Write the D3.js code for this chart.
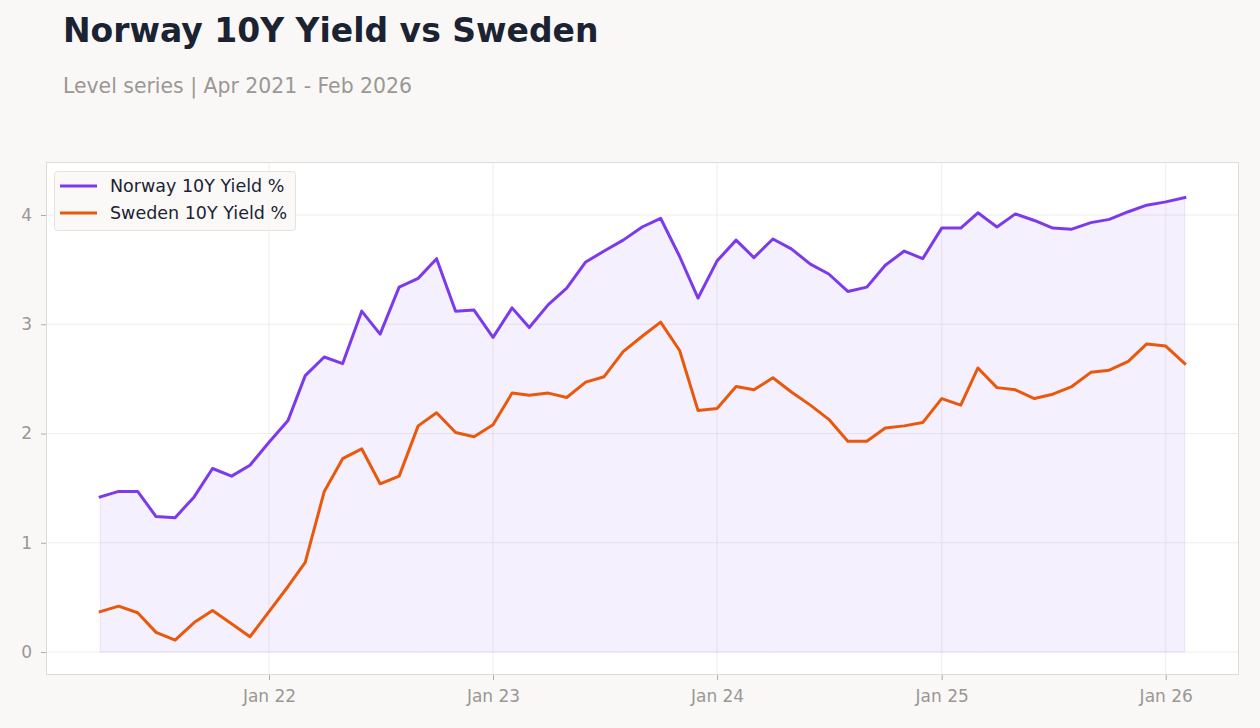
<!DOCTYPE html>
<html>
<head>
<meta charset="utf-8">
<script src="https://cdn.jsdelivr.net/npm/d3@7"></script>
<style>
  html, body { margin: 0; padding: 0; background: #f9f8f6; }
  svg { display: block; font-family: "DejaVu Sans", sans-serif; }
</style>
</head>
<body>
<svg id="chart" width="1260" height="728"></svg>
<script>
// monthly observations, Apr 2021 .. Feb 2026
var firstMonth = new Date(2021, 3, 1);
var lastMonth = new Date(2026, 1, 1);

var norway = [
    1.42, 1.47, 1.47, 1.24, 1.23, 1.42, 1.68, 1.61, 1.71, 1.92,
    2.12, 2.53, 2.70, 2.64, 3.12, 2.91, 3.34, 3.42, 3.60, 3.12,
    3.13, 2.88, 3.15, 2.97, 3.18, 3.33, 3.57, 3.67, 3.77, 3.89,
    3.97, 3.62, 3.24, 3.58, 3.77, 3.61, 3.78, 3.69, 3.55, 3.46,
    3.30, 3.34, 3.54, 3.67, 3.60, 3.88, 3.88, 4.02, 3.89, 4.01,
    3.95, 3.88, 3.87, 3.93, 3.96, 4.03, 4.09, 4.12, 4.16
];

var sweden = [
    0.37, 0.42, 0.36, 0.18, 0.11, 0.27, 0.38, 0.26, 0.14, 0.37,
    0.60, 0.82, 1.47, 1.77, 1.86, 1.54, 1.61, 2.07, 2.19, 2.01,
    1.97, 2.08, 2.37, 2.35, 2.37, 2.33, 2.47, 2.52, 2.75, 2.89,
    3.02, 2.76, 2.21, 2.23, 2.43, 2.40, 2.51, 2.38, 2.26, 2.13,
    1.93, 1.93, 2.05, 2.07, 2.10, 2.32, 2.26, 2.60, 2.42, 2.40,
    2.32, 2.36, 2.43, 2.56, 2.58, 2.66, 2.82, 2.80, 2.64
];

var seriesNames = ["Norway 10Y Yield %", "Sweden 10Y Yield %"];
var seriesColors = ["#7c3aed", "#ea580c"];
var yTicks = [0, 1, 2, 3, 4];
var xTickLabels = ["Jan 22", "Jan 23", "Jan 24", "Jan 25", "Jan 26"];
var xTickDates = [new Date(2022, 0, 1), new Date(2023, 0, 1), new Date(2024, 0, 1), new Date(2025, 0, 1), new Date(2026, 0, 1)];

var months = d3.timeMonth.range(firstMonth, d3.timeMonth.offset(lastMonth, 1));

var svg = d3.select("#chart");

var plot = { left: 46, top: 162, right: 1239, bottom: 675 };

// 5% padding either side, like the source chart
var span = lastMonth - firstMonth;
var x = d3.scaleTime()
    .domain([new Date(+firstMonth - span * 0.05), new Date(+lastMonth + span * 0.05)])
    .range([plot.left, plot.right]);

var y = d3.scaleLinear()
    .domain([-0.21, 4.485])
    .range([plot.bottom, plot.top]);

// titles
svg.append("text")
    .attr("x", 63).attr("y", 42)
    .attr("font-size", 33).attr("font-weight", "bold")
    .attr("fill", "#1b2333")
    .text("Norway 10Y Yield vs Sweden");

svg.append("text")
    .attr("x", 63).attr("y", 93)
    .attr("font-size", 20.4)
    .attr("fill", "#9a9794")
    .text("Level series | Apr 2021 - Feb 2026");

// plot background
svg.append("rect")
    .attr("x", plot.left).attr("y", plot.top)
    .attr("width", plot.right - plot.left).attr("height", plot.bottom - plot.top)
    .attr("fill", "#ffffff");

// grid
var grid = svg.append("g").attr("class", "grid");
grid.selectAll("line.h").data(yTicks).enter().append("line")
    .attr("class", "h")
    .attr("x1", plot.left).attr("x2", plot.right)
    .attr("y1", function(d) { return y(d); }).attr("y2", function(d) { return y(d); })
    .attr("stroke", "#ebe9e6").attr("stroke-width", 0.8);
grid.selectAll("line.v").data(xTickDates).enter().append("line")
    .attr("class", "v")
    .attr("y1", plot.top).attr("y2", plot.bottom)
    .attr("x1", function(d) { return x(d); }).attr("x2", function(d) { return x(d); })
    .attr("stroke", "#ebe9e6").attr("stroke-width", 0.8);

// shaded area under Norway
var area = d3.area()
    .x(function(d, i) { return x(months[i]); })
    .y0(y(0))
    .y1(function(d) { return y(d); });

svg.append("path")
    .datum(norway)
    .attr("d", area)
    .attr("fill", "rgba(124,58,237,0.08)")
    .attr("stroke", "rgba(124,58,237,0.10)")
    .attr("stroke-width", 1);

// lines
var line = d3.line()
    .x(function(d, i) { return x(months[i]); })
    .y(function(d) { return y(d); });

[norway, sweden].forEach(function(values, k) {
    svg.append("path")
        .datum(values)
        .attr("d", line)
        .attr("fill", "none")
        .attr("stroke", seriesColors[k])
        .attr("stroke-width", 3)
        .attr("stroke-linejoin", "round")
        .attr("stroke-linecap", "square");
});

// frame
svg.append("rect")
    .attr("x", plot.left + 0.5).attr("y", plot.top + 0.5)
    .attr("width", plot.right - plot.left - 1).attr("height", plot.bottom - plot.top - 1)
    .attr("fill", "none")
    .attr("stroke", "#e0dcd5").attr("stroke-width", 1);

// axes
var xAxis = d3.axisBottom(x)
    .tickValues(xTickDates)
    .tickFormat(function(d, i) { return xTickLabels[i]; })
    .tickSize(5).tickPadding(10);

var yAxis = d3.axisLeft(y)
    .tickValues(yTicks)
    .tickFormat(d3.format("d"))
    .tickSize(5).tickPadding(9);

var gx = svg.append("g")
    .attr("transform", "translate(0," + plot.bottom + ")")
    .call(xAxis);
var gy = svg.append("g")
    .attr("transform", "translate(" + plot.left + ",0)")
    .call(yAxis);

[gx, gy].forEach(function(g) {
    g.select(".domain").remove();
    g.selectAll(".tick line").attr("stroke", "#9a9794").attr("stroke-width", 0.8);
    g.selectAll(".tick text")
        .attr("fill", "#9a9794")
        .attr("font-size", 17)
        .attr("font-family", "DejaVu Sans, sans-serif");
});

// legend
var legend = svg.append("g").attr("transform", "translate(54,171)");
legend.append("rect")
    .attr("x", 0.5).attr("y", 0.5)
    .attr("width", 241).attr("height", 59)
    .attr("rx", 3)
    .attr("fill", "#f9f8f6").attr("fill-opacity", 0.9)
    .attr("stroke", "#e6e2dc");

var items = legend.selectAll("g.item")
    .data(seriesNames)
    .enter().append("g")
    .attr("class", "item")
    .attr("transform", function(d, i) { return "translate(0," + (15 + i * 27) + ")"; });

items.append("line")
    .attr("x1", 6).attr("x2", 43)
    .attr("stroke", function(d, i) { return seriesColors[i]; })
    .attr("stroke-width", 3);

items.append("text")
    .attr("x", 56).attr("y", 6)
    .attr("font-size", 17.5)
    .attr("fill", "#1b2333")
    .text(function(d) { return d; });
</script>
</body>
</html>
